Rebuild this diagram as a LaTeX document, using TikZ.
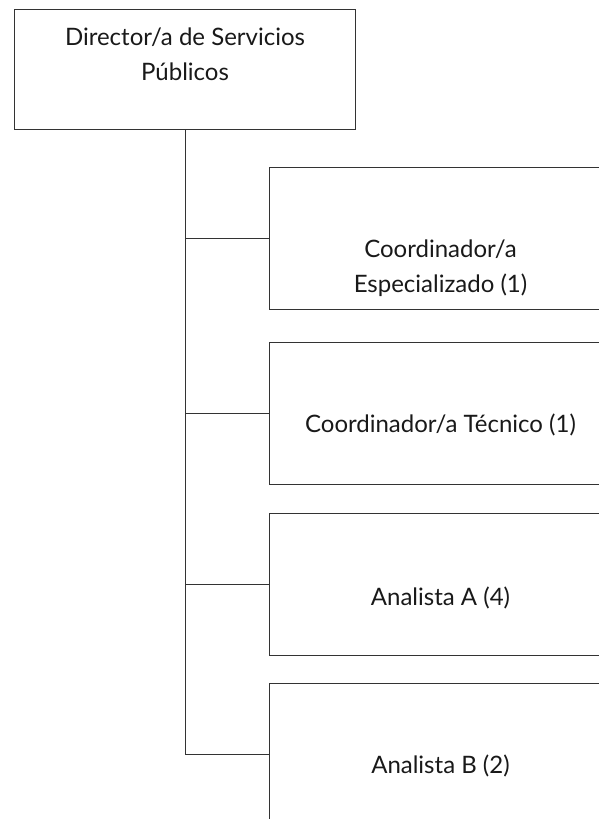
\documentclass[tikz,border=0pt]{standalone}
\usepackage{fontspec}
\setmainfont{Lato}
\begin{document}
\begin{tikzpicture}[x=1pt,y=-1pt,
	box/.style={draw=black!80, line width=1pt, minimum width=342pt, minimum height=142pt, inner sep=0pt, anchor=north west},
	txt/.style={align=center, font=\fontsize{24}{35}\selectfont, text=black!90}]
	\useasboundingbox (0,0) rectangle (599,819);
	\clip (0,0) rectangle (599,819);
	% top box
	\node [box, minimum width=341pt, minimum height=120pt, label={[txt, yshift=15pt]center:Director/a de Servicios\\Públicos}] (dir) at (14,9) {};
	% boxes on the right
	\node [box, label={[txt, yshift=-30pt]center:Coordinador/a\\Especializado (1)}] (coorde) at (269,167) {};
	\node [box, label={[txt, yshift=-11pt]center:Coordinador/a Técnico (1)}] (coordt) at (269,342) {};
	\node [box, label={[txt, yshift=-13pt]center:Analista A (4)}] (anaa) at (269,513) {};
	\node [box, label={[txt, yshift=-11pt]center:Analista B (2)}] (anab) at (269,683) {};
	% lines
	\draw [black!80, line width=1pt] (dir.south) |- (anab.west);
	\draw [black!80, line width=1pt] (dir.south |- coorde.west) -- (coorde.west);
	\draw [black!80, line width=1pt] (dir.south |- coordt.west) -- (coordt.west);
	\draw [black!80, line width=1pt] (dir.south |- anaa.west) -- (anaa.west);
\end{tikzpicture}
\end{document}
